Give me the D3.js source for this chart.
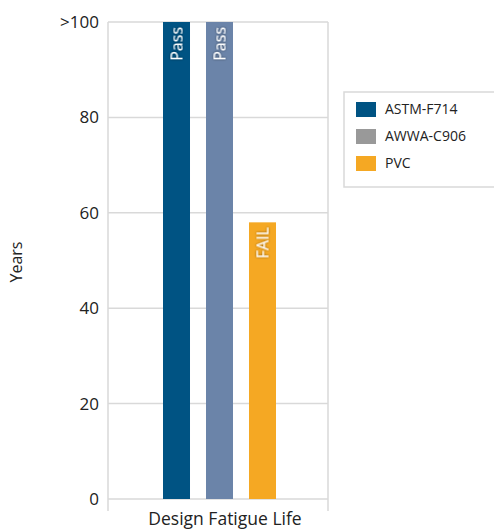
<!DOCTYPE html>
<html><head><meta charset="utf-8">
<script src="https://cdn.jsdelivr.net/npm/d3@7/dist/d3.min.js"></script>
<style>body{margin:0;background:#fff;}svg{display:block;font-family:"Open Sans",sans-serif;}</style>
</head><body>
<svg id="c" width="494" height="529"></svg>
<script>
const category = ["Design Fatigue Life"];
const series = ["ASTM-F714","AWWA-C906","PVC"];
const values = [100, 100, 58];
const barLabels = ["Pass","Pass","FAIL"];
const barColors = ["#005383","#6B84A9","#F5A823"];
const legendColors = ["#005383","#999999","#F5A823"];
const yTicks = [0,20,40,60,80,100];
const yTickLabels = ["0","20","40","60","80",">100"];

const svg = d3.select("#c");
const L=108, R=328, T=22, B=499;
const y = d3.scaleLinear().domain([0,100]).range([B,T]);
const x0 = d3.scaleBand().domain(category).range([L,R]);
const x1 = d3.scaleBand().domain(series).range([163,276]).paddingInner(0.372).paddingOuter(0);

// gridlines
svg.append("g").selectAll("line").data(yTicks).join("line")
  .attr("x1",L).attr("x2",R).attr("y1",d=>y(d)).attr("y2",d=>y(d))
  .attr("stroke","#d9d9d9").attr("stroke-width",1.5);
// frame verticals
svg.append("line").attr("x1",L).attr("x2",L).attr("y1",T).attr("y2",511).attr("stroke","#d9d9d9").attr("stroke-width",1.5);
svg.append("line").attr("x1",R).attr("x2",R).attr("y1",T).attr("y2",511).attr("stroke","#d9d9d9").attr("stroke-width",1.5);

// y axis labels
svg.append("g").selectAll("text").data(yTicks).join("text")
  .attr("x",99).attr("y",d=>y(d)).attr("dy","0.35em").attr("text-anchor","end")
  .attr("font-size",17).attr("fill","#222").text((d,i)=>yTickLabels[i]);

svg.append("text").attr("transform","translate(22,262) rotate(-90)").attr("text-anchor","middle")
  .attr("font-size",16).attr("fill","#222").text("Years");

svg.append("text").attr("x",x0(category[0])+x0.bandwidth()/2+7).attr("y",525).attr("text-anchor","middle")
  .attr("font-size",17.5).attr("fill","#222").text(category[0]);

// bars
const defs = svg.append("defs");
const f = defs.append("filter").attr("id","sh").attr("x","-50%").attr("y","-50%").attr("width","200%").attr("height","200%");
f.append("feDropShadow").attr("dx",0).attr("dy",0).attr("stdDeviation",1.2).attr("flood-color","#000").attr("flood-opacity",0.6);

svg.append("g").selectAll("rect").data(values).join("rect")
  .attr("x",(d,i)=>x1(series[i])).attr("width",x1.bandwidth())
  .attr("y",d=>y(d)).attr("height",d=>B-y(d)).attr("fill",(d,i)=>barColors[i]);

svg.append("g").selectAll("text").data(values).join("text")
  .attr("transform",(d,i)=>`translate(${x1(series[i])+x1.bandwidth()/2+6},${y(d)+5}) rotate(-90)`)
  .attr("text-anchor","end").attr("font-size",16).attr("fill","#fff").attr("filter","url(#sh)")
  .text((d,i)=>barLabels[i]);

// legend
const lg = svg.append("g");
lg.append("rect").attr("x",344).attr("y",92).attr("width",160).attr("height",95)
  .attr("fill","#fff").attr("stroke","#d9d9d9").attr("stroke-width",1.5);
const items = lg.selectAll("g").data(series).join("g")
  .attr("transform",(d,i)=>`translate(356,${102+i*27})`);
items.append("rect").attr("width",20).attr("height",15).attr("fill",(d,i)=>legendColors[i]);
items.append("text").attr("x",29).attr("y",7.5).attr("dy","0.35em").attr("font-size",14).attr("fill","#222").text(d=>d);
</script>
</body></html>
